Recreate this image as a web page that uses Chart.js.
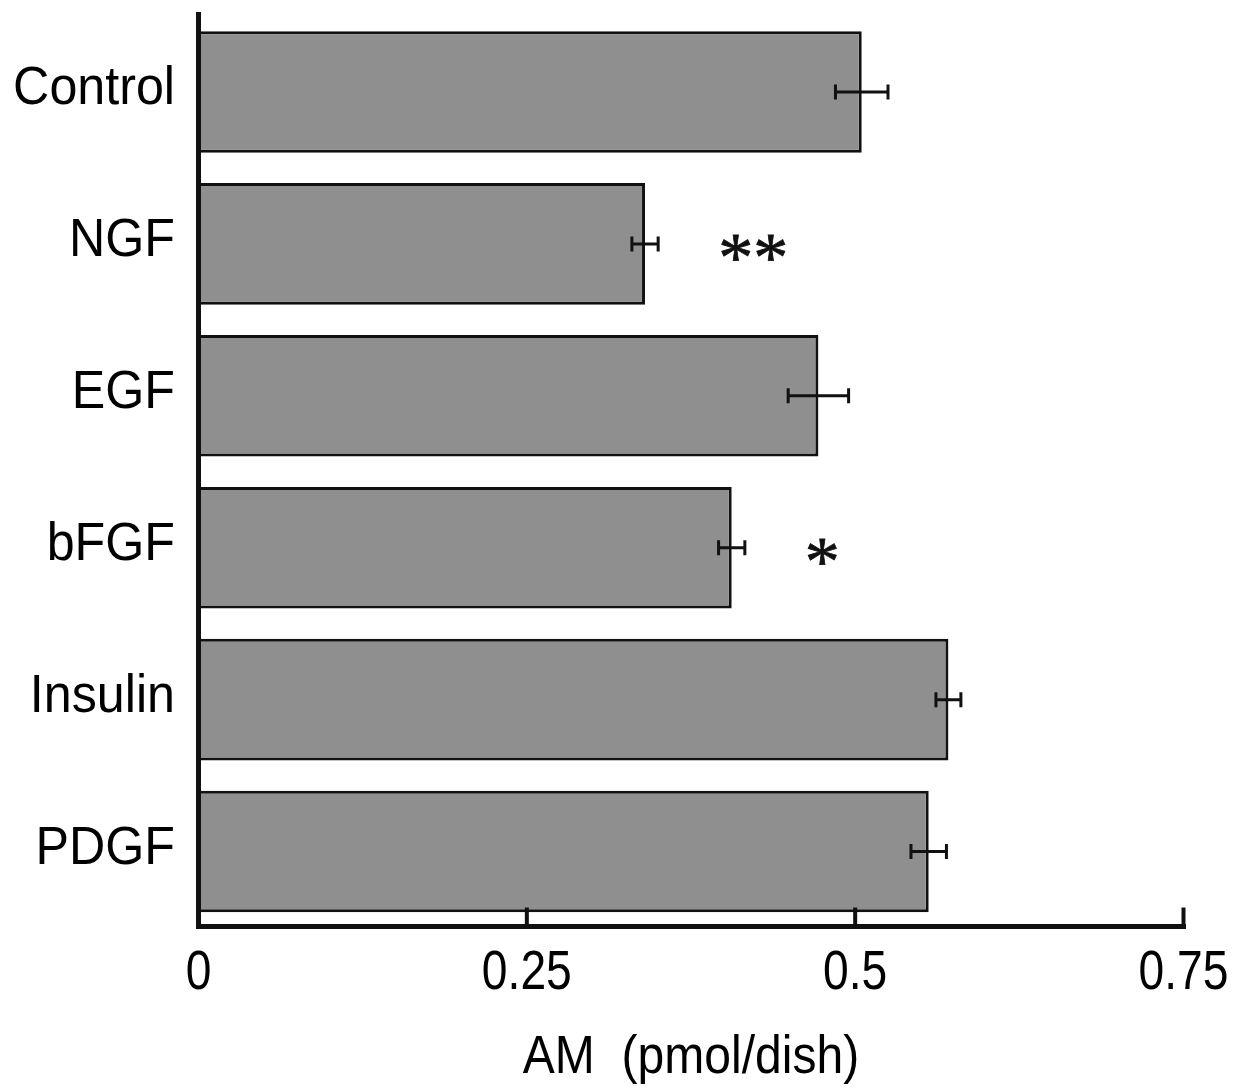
<!DOCTYPE html>
<html>
<head>
<meta charset="utf-8">
<script src="https://cdn.jsdelivr.net/npm/chart.js@4/dist/chart.umd.min.js"></script>
<style>
  html, body { margin: 0; padding: 0; background: #ffffff; }
  #wrap { width: 1238px; height: 1087px; position: relative; }
</style>
</head>
<body>
<div id="wrap"><canvas id="c"></canvas></div>
<script>
const categories = ['Control', 'NGF', 'EGF', 'bFGF', 'Insulin', 'PDGF'];
const amValues = [0.505, 0.340, 0.472, 0.406, 0.571, 0.556];
const amErrors = [0.020, 0.010, 0.023, 0.010, 0.0095, 0.0135];
const significance = ['', '**', '', '*', '', ''];
const xTickValues = [0, 0.25, 0.5, 0.75];
const xTickLabels = ['0', '0.25', '0.5', '0.75'];
const xAxisTitle = 'AM  (pmol/dish)';

const SANS = '"Liberation Sans", Arial, Helvetica, sans-serif';
const STAR = '"Liberation Serif", "Times New Roman", serif';
const INK = '#111111';

function condensedText(ctx, text, x, y, sx, align) {
  ctx.save();
  ctx.translate(x, y);
  ctx.scale(sx, 1);
  ctx.textAlign = align;
  ctx.fillText(text, 0, 0);
  ctx.restore();
}

const decorPlugin = {
  id: 'decor',
  afterDatasetsDraw(chart) {
    const ctx = chart.ctx;
    const xs = chart.scales.x;
    const ys = chart.scales.y;
    const area = chart.chartArea;
    const meta = chart.getDatasetMeta(0);

    // error bars
    ctx.save();
    ctx.strokeStyle = INK;
    ctx.lineWidth = 3;
    ctx.lineCap = 'butt';
    amValues.forEach((v, i) => {
      const yc = meta.data[i].y;
      const x1 = xs.getPixelForValue(v - amErrors[i]);
      const x2 = xs.getPixelForValue(v + amErrors[i]);
      ctx.beginPath();
      ctx.moveTo(x1, yc); ctx.lineTo(x2, yc);
      ctx.moveTo(x1, yc - 7.5); ctx.lineTo(x1, yc + 7.5);
      ctx.moveTo(x2, yc - 7.5); ctx.lineTo(x2, yc + 7.5);
      ctx.stroke();
    });
    ctx.restore();

    // significance asterisks
    ctx.save();
    ctx.fillStyle = INK;
    ctx.strokeStyle = INK;
    ctx.lineWidth = 0.8;
    ctx.font = '70px ' + STAR;
    ctx.textBaseline = 'alphabetic';
    significance.forEach((s, i) => {
      if (!s) return;
      const yc = meta.data[i].y + 4.5;
      const xStart = xs.getPixelForValue(amValues[i] + amErrors[i]) + 60;
      const m = ctx.measureText(s);
      const top = m.actualBoundingBoxAscent;
      const bot = m.actualBoundingBoxDescent;
      const baseline = yc + (top - bot) / 2;
      ctx.textAlign = 'left';
      ctx.fillText(s, xStart, baseline);
      ctx.strokeText(s, xStart, baseline);
    });
    ctx.restore();

    // axes
    const x0 = xs.getPixelForValue(0);
    const xEnd = xs.getPixelForValue(0.75);
    const axisY = area.bottom - 1;
    ctx.save();
    ctx.strokeStyle = INK;
    ctx.lineCap = 'butt';
    ctx.lineWidth = 5;
    ctx.beginPath();
    ctx.moveTo(x0, area.top - 4); ctx.lineTo(x0, axisY + 2.5);
    ctx.stroke();
    ctx.beginPath();
    ctx.moveTo(x0 - 2.5, axisY); ctx.lineTo(xEnd + 2.5, axisY);
    ctx.stroke();
    ctx.lineWidth = 4;
    xTickValues.forEach(v => {
      if (v === 0) return;
      const px = xs.getPixelForValue(v);
      ctx.beginPath();
      ctx.moveTo(px, axisY - 19); ctx.lineTo(px, axisY + 2.5);
      ctx.stroke();
    });
    ctx.restore();

    // labels
    ctx.save();
    ctx.fillStyle = '#000000';
    ctx.textBaseline = 'alphabetic';
    ctx.font = '54px ' + SANS;
    categories.forEach((c, i) => {
      const yc = ys.getPixelForValue(i);
      condensedText(ctx, c, 175, yc + 12.5, 0.93, 'right');
    });
    ctx.font = '55px ' + SANS;
    xTickValues.forEach((v, i) => {
      const px = xs.getPixelForValue(v);
      condensedText(ctx, xTickLabels[i], px, 989, 0.84, 'center');
    });
    ctx.font = '54px ' + SANS;
    condensedText(ctx, xAxisTitle, (x0 + xEnd) / 2, 1073, 0.89, 'center');
    ctx.restore();
  }
};

new Chart(document.getElementById('c'), {
  type: 'bar',
  data: {
    labels: categories,
    datasets: [{
      data: amValues,
      backgroundColor: '#8f8f8f',
      borderColor: INK,
      borderWidth: 3,
      categoryPercentage: 1.0,
      barPercentage: 0.8
    }]
  },
  options: {
    indexAxis: 'y',
    responsive: true,
    maintainAspectRatio: false,
    animation: false,
    layout: { padding: { left: 198.5, right: 54.5, top: 16, bottom: 159.5 } },
    plugins: { legend: { display: false }, tooltip: { enabled: false } },
    scales: {
      x: { display: false, min: 0, max: 0.75 },
      y: { display: false, offset: true }
    }
  },
  plugins: [decorPlugin]
});
</script>
</body>
</html>
